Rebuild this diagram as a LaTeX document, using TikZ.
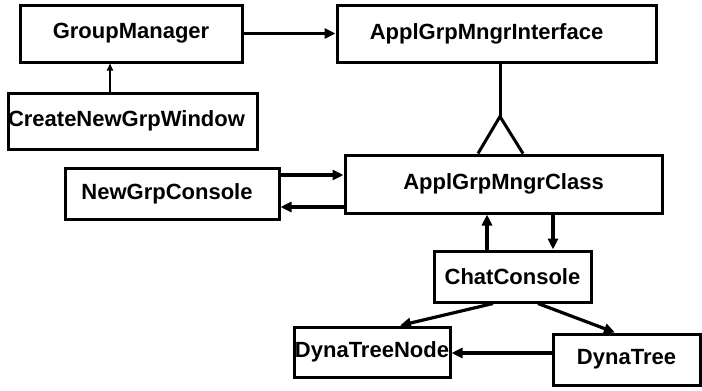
\documentclass[tikz,border=0pt]{standalone}
\usepackage{fontspec}
\setmainfont{Liberation Sans}
\usetikzlibrary{arrows.meta}
\begin{document}
\begin{tikzpicture}[x=1pt,y=-1pt,
  box/.style={draw=black,line width=3pt,rectangle,inner sep=0pt,font=\fontsize{22}{24}\selectfont\bfseries},
  conn/.style={line width=3.2pt,-{Triangle[length=11pt,width=10pt]}},
  thin conn/.style={line width=1.6pt,-{Triangle[length=7pt,width=6pt]}},
  gen/.style={line width=3pt,line join=miter}]
\useasboundingbox (0,0) rectangle (702,391);
\node[box,minimum width=222pt,minimum height=57pt] (gm) at (131,33.5) {GroupManager};
\node[box,minimum width=319pt,minimum height=57pt] (ai) at (496.5,33.5) {\hspace*{-20pt}ApplGrpMngrInterface};
\node[box,minimum width=249pt,minimum height=56pt] (cw) at (132.5,121) {\hspace*{-12pt}CreateNewGrpWindow};
\node[box,minimum width=317pt,minimum height=58pt] (ac) at (503.5,184) {ApplGrpMngrClass};
\node[box,minimum width=214pt,minimum height=51pt] (ngc) at (172,193.5) {\hspace*{-10pt}NewGrpConsole};
\node[box,minimum width=157pt,minimum height=51pt] (cc) at (512.5,276.5) {ChatConsole};
\node[box,minimum width=156pt,minimum height=50pt] (dtn) at (372,352) {DynaTreeNode};
\node[box,minimum width=147pt,minimum height=51pt] (dt) at (626.5,359.5) {DynaTree};

\coordinate (apex) at ([xshift=-3.5pt,yshift=37pt]ac.north);
\draw[conn] (gm.east) -- (ai.west);
\draw[thin conn] ([xshift=-22.5pt]cw.north) -- ([xshift=-22.5pt]cw.north |- gm.south);
\draw[gen] (apex |- ai.south) -- (apex);
\draw[gen] ([xshift=-22pt]apex |- ac.north) -- (apex) -- ([xshift=23pt]apex |- ac.north);
\draw[conn] ([yshift=18.5pt]ngc.east) -- ([yshift=18.5pt]ngc.east -| ac.west);
\draw[conn] ([yshift=-13.5pt]ngc.east -| ac.west) -- ([yshift=-13.5pt]ngc.east);
\draw[conn] ([xshift=-25.5pt]cc.north) -- ([xshift=-25.5pt]cc.north |- ac.south);
\draw[conn] ([xshift=40.5pt]cc.north |- ac.south) -- ([xshift=40.5pt]cc.north);
\draw[conn] ([xshift=-19.5pt]cc.south) -- ([xshift=28pt]dtn.north);
\draw[conn] ([xshift=25.5pt]cc.south) -- ([xshift=-11.5pt]dt.north);
\draw[conn] ([yshift=6.5pt]dt.west) -- ([yshift=6.5pt]dt.west -| dtn.east);
\end{tikzpicture}
\end{document}
